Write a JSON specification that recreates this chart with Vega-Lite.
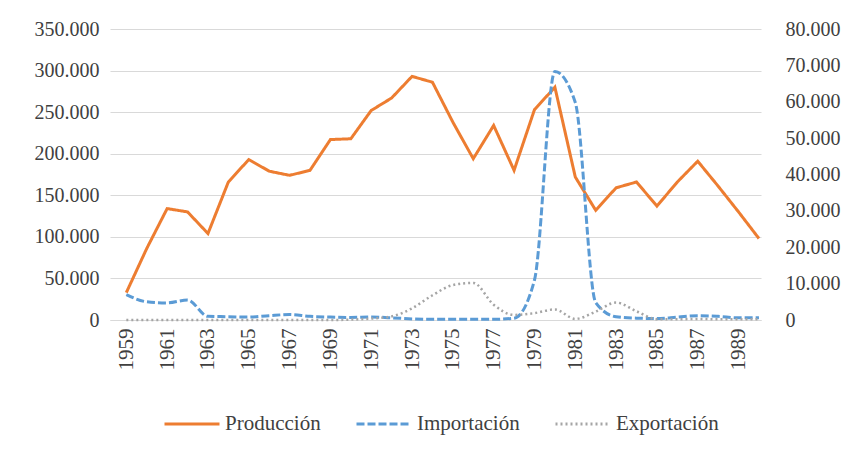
{
  "$schema": "https://vega.github.io/schema/vega-lite/v6.json",
  "width": 651,
  "height": 291,
  "autosize": {"type": "none"},
  "padding": {"left": 110, "top": 29, "right": 100, "bottom": 129},
  "background": "white",
  "config": {
    "font": "Liberation Serif, serif",
    "view": {"stroke": null},
    "axis": {"labelFont": "Liberation Serif, serif", "labelFontSize": 20, "labelColor": "#404040", "domain": false, "ticks": false, "grid": false, "title": null},
    "legend": {"orient": "none", "legendX": 53, "legendY": 366, "direction": "horizontal", "labelFont": "Liberation Serif, serif", "labelFontSize": 21, "labelColor": "#404040", "symbolType": "stroke", "symbolSize": 3025, "symbolStrokeWidth": 3, "columnPadding": 29, "labelOffset": 4, "title": null}
  },
  "data": {"values": [
    {"year": 1959, "serie": "Producción", "value": 33000}, {"year": 1959, "serie": "Importación", "value": 7000}, {"year": 1959, "serie": "Exportación", "value": 0},
    {"year": 1960, "serie": "Producción", "value": 86000}, {"year": 1960, "serie": "Importación", "value": 5000}, {"year": 1960, "serie": "Exportación", "value": 0},
    {"year": 1961, "serie": "Producción", "value": 134000}, {"year": 1961, "serie": "Importación", "value": 4700}, {"year": 1961, "serie": "Exportación", "value": 0},
    {"year": 1962, "serie": "Producción", "value": 130000}, {"year": 1962, "serie": "Importación", "value": 5500}, {"year": 1962, "serie": "Exportación", "value": 0},
    {"year": 1963, "serie": "Producción", "value": 104000}, {"year": 1963, "serie": "Importación", "value": 1000}, {"year": 1963, "serie": "Exportación", "value": 0},
    {"year": 1964, "serie": "Producción", "value": 166000}, {"year": 1964, "serie": "Importación", "value": 900}, {"year": 1964, "serie": "Exportación", "value": 0},
    {"year": 1965, "serie": "Producción", "value": 193000}, {"year": 1965, "serie": "Importación", "value": 800}, {"year": 1965, "serie": "Exportación", "value": 0},
    {"year": 1966, "serie": "Producción", "value": 179000}, {"year": 1966, "serie": "Importación", "value": 1200}, {"year": 1966, "serie": "Exportación", "value": 0},
    {"year": 1967, "serie": "Producción", "value": 174000}, {"year": 1967, "serie": "Importación", "value": 1500}, {"year": 1967, "serie": "Exportación", "value": 0},
    {"year": 1968, "serie": "Producción", "value": 180000}, {"year": 1968, "serie": "Importación", "value": 1000}, {"year": 1968, "serie": "Exportación", "value": 0},
    {"year": 1969, "serie": "Producción", "value": 217000}, {"year": 1969, "serie": "Importación", "value": 800}, {"year": 1969, "serie": "Exportación", "value": 0},
    {"year": 1970, "serie": "Producción", "value": 218000}, {"year": 1970, "serie": "Importación", "value": 700}, {"year": 1970, "serie": "Exportación", "value": 100},
    {"year": 1971, "serie": "Producción", "value": 252000}, {"year": 1971, "serie": "Importación", "value": 800}, {"year": 1971, "serie": "Exportación", "value": 400},
    {"year": 1972, "serie": "Producción", "value": 267000}, {"year": 1972, "serie": "Importación", "value": 600}, {"year": 1972, "serie": "Exportación", "value": 1000},
    {"year": 1973, "serie": "Producción", "value": 293000}, {"year": 1973, "serie": "Importación", "value": 300}, {"year": 1973, "serie": "Exportación", "value": 3200},
    {"year": 1974, "serie": "Producción", "value": 286000}, {"year": 1974, "serie": "Importación", "value": 200}, {"year": 1974, "serie": "Exportación", "value": 6800},
    {"year": 1975, "serie": "Producción", "value": 238000}, {"year": 1975, "serie": "Importación", "value": 200}, {"year": 1975, "serie": "Exportación", "value": 9600},
    {"year": 1976, "serie": "Producción", "value": 194000}, {"year": 1976, "serie": "Importación", "value": 200}, {"year": 1976, "serie": "Exportación", "value": 10200},
    {"year": 1977, "serie": "Producción", "value": 234000}, {"year": 1977, "serie": "Importación", "value": 200}, {"year": 1977, "serie": "Exportación", "value": 4200},
    {"year": 1978, "serie": "Producción", "value": 180000}, {"year": 1978, "serie": "Importación", "value": 500}, {"year": 1978, "serie": "Exportación", "value": 1400},
    {"year": 1979, "serie": "Producción", "value": 253000}, {"year": 1979, "serie": "Importación", "value": 11000}, {"year": 1979, "serie": "Exportación", "value": 1900},
    {"year": 1980, "serie": "Producción", "value": 280000}, {"year": 1980, "serie": "Importación", "value": 68300}, {"year": 1980, "serie": "Exportación", "value": 2900},
    {"year": 1981, "serie": "Producción", "value": 172000}, {"year": 1981, "serie": "Importación", "value": 59800}, {"year": 1981, "serie": "Exportación", "value": 300},
    {"year": 1982, "serie": "Producción", "value": 132000}, {"year": 1982, "serie": "Importación", "value": 4800}, {"year": 1982, "serie": "Exportación", "value": 2300},
    {"year": 1983, "serie": "Producción", "value": 159000}, {"year": 1983, "serie": "Importación", "value": 900}, {"year": 1983, "serie": "Exportación", "value": 4800},
    {"year": 1984, "serie": "Producción", "value": 166000}, {"year": 1984, "serie": "Importación", "value": 500}, {"year": 1984, "serie": "Exportación", "value": 2400},
    {"year": 1985, "serie": "Producción", "value": 137000}, {"year": 1985, "serie": "Importación", "value": 400}, {"year": 1985, "serie": "Exportación", "value": 200},
    {"year": 1986, "serie": "Producción", "value": 166000}, {"year": 1986, "serie": "Importación", "value": 800}, {"year": 1986, "serie": "Exportación", "value": 200},
    {"year": 1987, "serie": "Producción", "value": 191000}, {"year": 1987, "serie": "Importación", "value": 1200}, {"year": 1987, "serie": "Exportación", "value": 300},
    {"year": 1988, "serie": "Producción", "value": 161000}, {"year": 1988, "serie": "Importación", "value": 1000}, {"year": 1988, "serie": "Exportación", "value": 200},
    {"year": 1989, "serie": "Producción", "value": 130000}, {"year": 1989, "serie": "Importación", "value": 600}, {"year": 1989, "serie": "Exportación", "value": 200},
    {"year": 1990, "serie": "Producción", "value": 98000}, {"year": 1990, "serie": "Importación", "value": 600}, {"year": 1990, "serie": "Exportación", "value": 200}
  ]},
  "encoding": {
    "x": {"field": "year", "type": "quantitative",
      "scale": {"domain": [1958.2, 1990.1], "nice": false, "zero": false},
      "axis": {"values": [1959, 1961, 1963, 1965, 1967, 1969, 1971, 1973, 1975, 1977, 1979, 1981, 1983, 1985, 1987, 1989], "format": "d", "labelAngle": -90, "labelPadding": 8, "labelFontSize": 21, "domain": true, "domainColor": "#d9d9d9", "grid": false}},
    "color": {"field": "serie", "type": "nominal",
      "scale": {"domain": ["Producción", "Importación", "Exportación"], "range": ["#ED7D31", "#5B9BD5", "#A5A5A5"]}},
    "strokeDash": {"field": "serie", "type": "nominal",
      "scale": {"domain": ["Producción", "Importación", "Exportación"], "range": [[1, 0], [8, 3], [2, 3]]}}
  },
  "layer": [
    {
      "transform": [{"filter": "datum.serie === 'Producción'"}],
      "mark": {"type": "line", "strokeWidth": 3},
      "encoding": {
        "y": {"field": "value", "type": "quantitative",
          "scale": {"domain": [0, 350000], "nice": false},
          "axis": {"orient": "left", "values": [0, 50000, 100000, 150000, 200000, 250000, 300000, 350000], "labelPadding": 11, "grid": true, "gridColor": "#d9d9d9", "gridWidth": 1, "labelExpr": "replace(format(datum.value, ','), ',', '.')"}}
      }
    },
    {
      "transform": [{"filter": "datum.serie === 'Importación'"}],
      "mark": {"type": "line", "strokeWidth": 3, "interpolate": "monotone"},
      "encoding": {
        "y": {"field": "value", "type": "quantitative",
          "scale": {"domain": [0, 80000], "nice": false},
          "axis": {"orient": "right", "values": [0, 10000, 20000, 30000, 40000, 50000, 60000, 70000, 80000], "labelPadding": 24, "grid": false, "labelExpr": "replace(format(datum.value, ','), ',', '.')"}}
      }
    },
    {
      "transform": [{"filter": "datum.serie === 'Exportación'"}],
      "mark": {"type": "line", "strokeWidth": 2.5, "interpolate": "monotone"},
      "encoding": {
        "y": {"field": "value", "type": "quantitative",
          "scale": {"domain": [0, 80000], "nice": false},
          "axis": null}
      }
    }
  ],
  "resolve": {"scale": {"y": "independent"}}
}
